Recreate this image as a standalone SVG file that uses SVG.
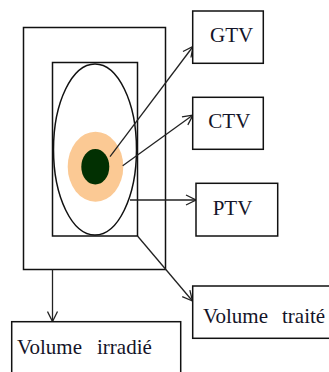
<svg xmlns="http://www.w3.org/2000/svg" width="329" height="372" viewBox="0 0 329 372">
<defs>
<marker id="arr" markerWidth="12" markerHeight="12" refX="11" refY="6" orient="auto" markerUnits="userSpaceOnUse">
<path d="M1,1 L11,6 L1,11" fill="none" stroke="#222" stroke-width="1.3"/>
</marker>
<style>
.box{fill:#fff;stroke:#111;stroke-width:1.5}
.lbl{font-family:"Liberation Serif","Times New Roman",serif;font-size:21px;fill:#141428}
.con{fill:none;stroke:#222;stroke-width:1.3;marker-end:url(#arr)}
</style>
</defs>
<rect width="329" height="372" fill="#fff"/>
<g id="irradiated-volume-outline"><rect class="box" x="23.5" y="27.5" width="142" height="242"/></g>
<g id="treated-volume-outline"><rect class="box" x="52.5" y="62.5" width="85" height="173.5"/></g>
<g id="ptv-ellipse"><ellipse cx="95" cy="149.5" rx="41.5" ry="85.5" fill="#fff" stroke="#111" stroke-width="1.5"/></g>
<g id="ctv-ellipse"><ellipse cx="95.5" cy="166.7" rx="27.8" ry="35" fill="#fbc994"/></g>
<g id="gtv-ellipse"><ellipse cx="95.3" cy="166.7" rx="14" ry="17.7" fill="#023002"/></g>
<g id="connectors">
<line class="con" x1="110" y1="156.7" x2="193" y2="46.5"/>
<line class="con" x1="122.7" y1="165.7" x2="193" y2="115"/>
<line class="con" x1="130" y1="200" x2="196" y2="200"/>
<line class="con" x1="137.5" y1="236" x2="192.5" y2="301"/>
<line class="con" x1="52.5" y1="269.5" x2="52.5" y2="321.5"/>
</g>
<g id="GTV"><rect class="box" x="192.7" y="11" width="70.6" height="52.3"/><text class="lbl" x="210" y="42.3">GTV</text></g>
<g id="CTV"><rect class="box" x="192.7" y="97.3" width="70.6" height="52"/><text class="lbl" x="208.3" y="128.3">CTV</text></g>
<g id="PTV"><rect class="box" x="196" y="183.3" width="81.7" height="52.7"/><text class="lbl" x="212.7" y="215">PTV</text></g>
<g id="volume-traite"><rect class="box" x="192.7" y="286" width="145" height="52.3"/><text class="lbl" y="323.3"><tspan x="203">Volume</tspan><tspan x="282">traité</tspan></text></g>
<g id="volume-irradie"><rect class="box" x="11.7" y="321.7" width="169" height="60"/><text class="lbl" y="354"><tspan x="17">Volume</tspan><tspan x="97">irradié</tspan></text></g>
</svg>
